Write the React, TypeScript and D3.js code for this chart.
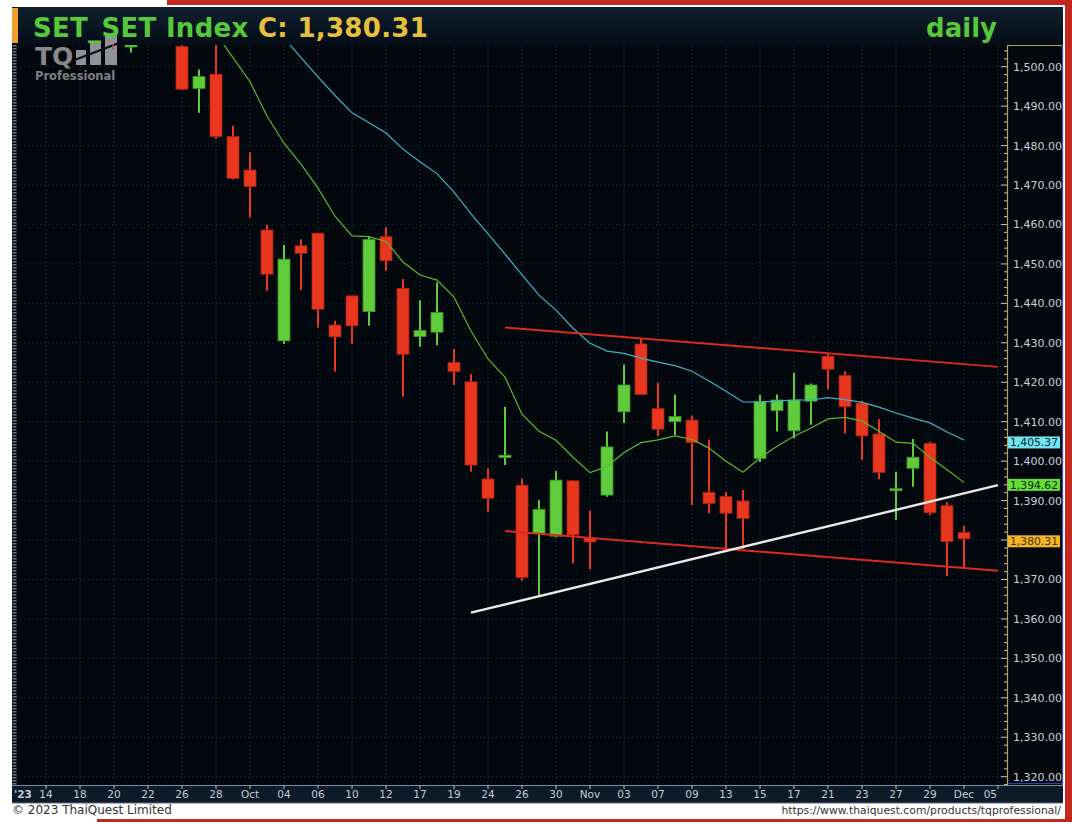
import React from 'react';
import * as d3 from 'd3';

// ---------- DATA ----------
const tradingDays = ['09-12','09-13','09-14','09-15','09-18','09-19','09-20','09-21','09-22','09-25','09-26','09-27','09-28','09-29','10-02','10-03','10-04','10-05','10-06','10-09','10-10','10-11','10-12','10-16','10-17','10-18','10-19','10-20','10-24','10-25','10-26','10-27','10-30','10-31','11-01','11-02','11-03','11-06','11-07','11-08','11-09','11-10','11-13','11-14','11-15','11-16','11-17','11-20','11-21','11-22','11-23','11-24','11-27','11-28','11-29','11-30','12-01','12-04','12-05'];

const tickLabels = ["'23","14","18","20","22","26","28","Oct","04","06","10","12","17","19","24","26","30","Nov","03","07","09","13","15","17","21","23","27","29","Dec","05"];

const candleDates = tradingDays.slice(7, 57); // 09-21 .. 12-01

const openV = [1505.0,1515.0,1512.0,1505.1,1494.5,1498.1,1482.3,1473.8,1458.6,1430.5,1454.6,1457.8,1434.5,1441.9,1437.9,1456.9,1443.8,1431.6,1432.7,1425.0,1420.1,1395.5,1400.9,1393.9,1381.7,1381.0,1395.0,1380.5,1391.4,1412.5,1429.7,1413.3,1410.0,1410.4,1392.1,1391.0,1389.9,1400.7,1412.8,1407.7,1415.2,1426.6,1421.7,1414.7,1406.9,1392.5,1398.2,1404.5,1388.7,1381.9];
const highV = [1518.0,1521.0,1514.0,1508.0,1499.3,1508.0,1485.0,1478.3,1459.9,1454.8,1456.2,1457.9,1435.6,1442.0,1456.9,1459.3,1446.2,1440.8,1445.3,1428.4,1422.1,1398.2,1413.8,1395.6,1390.1,1397.5,1395.1,1387.4,1407.5,1424.5,1431.1,1419.9,1416.9,1411.5,1405.5,1392.1,1392.7,1416.8,1416.9,1422.4,1419.7,1427.5,1422.8,1415.3,1410.6,1397.3,1405.6,1404.9,1389.6,1383.6];
const lowV = [1503.6,1509.0,1507.0,1494.0,1488.3,1481.7,1471.4,1461.8,1443.2,1429.7,1443.4,1433.9,1422.7,1429.7,1434.3,1448.3,1416.3,1429.0,1429.4,1419.3,1397.3,1387.2,1399.0,1369.7,1365.8,1380.7,1374.1,1372.6,1391.0,1409.7,1416.8,1406.4,1406.6,1388.9,1386.8,1377.5,1377.7,1399.8,1407.5,1405.8,1409.2,1418.2,1407.0,1400.3,1395.4,1385.1,1393.5,1386.3,1370.9,1372.7];
const closeV = [1514.0,1512.0,1508.0,1494.3,1497.5,1482.3,1471.7,1469.6,1447.4,1451.2,1452.7,1438.5,1431.5,1434.3,1456.2,1450.8,1427.1,1433.1,1437.7,1422.7,1399.0,1390.6,1401.5,1370.5,1387.8,1395.2,1381.3,1379.5,1403.6,1419.3,1416.9,1408.1,1411.3,1404.7,1389.3,1386.8,1385.5,1415.1,1415.5,1415.5,1419.3,1423.3,1413.8,1406.4,1397.1,1393.0,1401.0,1386.9,1379.6,1380.31];

const ma10Dates = tradingDays.slice(12, 57); // 09-28 .. 12-01
const ma10 = [1508.3,1502.3,1496.2,1487.5,1480.6,1475.3,1469.2,1462.1,1457.1,1456.9,1455.7,1450.5,1447.2,1445.9,1441.6,1433.0,1425.9,1421.3,1411.9,1407.6,1405.3,1401.0,1397.1,1398.6,1402.2,1404.7,1405.4,1406.4,1405.5,1403.3,1400.0,1397.2,1400.8,1403.8,1406.3,1408.4,1410.7,1411.1,1410.2,1407.6,1404.8,1404.5,1401.0,1397.8,1394.62];

const ma25Dates = tradingDays.slice(15, 57); // 10-03 .. 12-01
const ma25 = [1512.3,1507.3,1502.3,1497.4,1492.7,1488.3,1485.8,1483.2,1479.1,1475.9,1472.9,1468.2,1462.7,1457.6,1452.5,1447.2,1442.1,1438.3,1433.7,1429.9,1427.9,1427.3,1426.1,1425.1,1424.2,1422.8,1420.3,1417.7,1415.0,1415.0,1415.2,1415.5,1415.5,1416.1,1415.6,1414.9,1413.7,1412.2,1410.9,1409.7,1407.4,1405.37];

const upperChannel: [string, number][] = [['10-25', 1433.9], ['12-05', 1423.9]];
const lowerChannel: [string, number][] = [['10-25', 1382.3], ['12-05', 1372.2]];
const supportLine: [string, number][] = [['10-20', 1361.6], ['12-05', 1393.9]];

const yTicks = d3.range(1320, 1501, 10);

// ---------- LAYOUT ----------
const W = 1072, H = 822;
const PL = 12, PR = 1007, PT = 45, PB = 785;

const x = d3.scalePoint<string>().domain(tradingDays).range([12, 998]);
const y = d3.scaleLinear().domain([1320, 1500]).range([776.7, 66.7]);
const fmt = d3.format(',.2f');

const RED = '#e8361f', RED_D = '#a82214';
const GREEN = '#5fcd3b', GREEN_D = '#3c9226';

export default function App() {
  const lastClose = closeV[closeV.length - 1];
  const lastMa10 = ma10[ma10.length - 1];
  const lastMa25 = ma25[ma25.length - 1];
  const badgeVals = [lastMa25, lastMa10, lastClose];
  const line = d3.line<[string, number]>().x(d => x(d[0])!).y(d => y(d[1]));
  const ma10Path = line(ma10Dates.map((d, i) => [d, ma10[i]] as [string, number]))!;
  const ma25Path = line(ma25Dates.map((d, i) => [d, ma25[i]] as [string, number]))!;
  const tickDays = tradingDays.filter((_, i) => i % 2 === 0);
  const minorTicks = d3.range(1318, 1506, 2);
  const font = '"DejaVu Sans", Verdana, sans-serif';

  const badge = (v: number, fill: string, tc: string) => (
    <g key={fill}>
      <rect x={1008} y={y(v) - 3.5} width={52} height={12} fill={fill} />
      <text x={1034} y={y(v) + 6.3} fontSize={10.5} fill={tc} fontFamily={font} textAnchor="middle" textLength={48} lengthAdjust="spacingAndGlyphs">{fmt(v)}</text>
    </g>
  );

  return (
    <svg width={W} height={H} style={{ position: 'absolute', left: 0, top: 0, background: '#fff' }}>
      <defs>
        <linearGradient id="titleG" x1="0" y1="0" x2="0" y2="1">
          <stop offset="0" stopColor="#0f1f2f" />
          <stop offset="1" stopColor="#050c15" />
        </linearGradient>
        <clipPath id="plotClip">
          <rect x={PL} y={PT} width={PR - PL} height={PB - PT} />
        </clipPath>
      </defs>
      {/* frame */}
      <rect x={0} y={0} width={W} height={H} fill="#ffffff" />
      <rect x={167} y={0} width={W - 167} height={5} fill="#c3281e" />
      <rect x={1065} y={0} width={7} height={H} fill="#c3281e" />
      <rect x={97} y={819} width={W - 97} height={3} fill="#c3281e" />

      {/* panel */}
      <rect x={PL} y={7} width={1051} height={796} fill="#03080e" />
      <rect x={PL} y={7} width={1051} height={38} fill="url(#titleG)" />

      {/* grid */}
      <g clipPath="url(#plotClip)">
        {yTicks.map(t => (
          <line key={'h' + t} x1={PL} x2={PR} y1={y(t)} y2={y(t)} stroke="#1b2a3a" strokeWidth={1} strokeDasharray="1,3" />
        ))}
        {tickDays.map(d => (
          <line key={'v' + d} x1={x(d)} x2={x(d)} y1={PT} y2={PB} stroke="#122232" strokeWidth={1} strokeDasharray="2,2" />
        ))}
      </g>

      {/* left ruler strip */}
      <line x1={14.5} x2={14.5} y1={PT} y2={PB} stroke="#6f7a86" strokeWidth={4} strokeDasharray="1.5,1.5" />
      <rect x={12} y={8} width={6} height={35} fill="#f0a032" />

      {/* candles */}
      <g clipPath="url(#plotClip)">
        {candleDates.map((d, i) => {
          const up = closeV[i] >= openV[i];
          const c = up ? GREEN : RED;
          const cd = up ? GREEN_D : RED_D;
          const cx = x(d)!;
          const top = y(Math.max(openV[i], closeV[i]));
          const bot = y(Math.min(openV[i], closeV[i]));
          return (
            <g key={d}>
              <line x1={cx} x2={cx} y1={y(highV[i])} y2={y(lowV[i])} stroke={c} strokeWidth={2} />
              <rect x={cx - 6} y={top} width={12} height={Math.max(bot - top, 2)} fill={c} stroke={cd} strokeWidth={0.8} />
            </g>
          );
        })}
        <path d={ma25Path} fill="none" stroke="#3fb3c4" strokeWidth={1.2} />
        <path d={ma10Path} fill="none" stroke="#5cb82a" strokeWidth={1.2} />
        <path d={line(upperChannel)!} fill="none" stroke="#dc2a1e" strokeWidth={2} />
        <path d={line(lowerChannel)!} fill="none" stroke="#dc2a1e" strokeWidth={2} />
        <path d={line(supportLine)!} fill="none" stroke="#eaeaea" strokeWidth={2.4} />
      </g>

      {/* logo watermark */}
      <g opacity={0.8}>
        <text x={35} y={65} fontSize={25} fontWeight="bold" fill="#a9a9a9" fontFamily={font}>TQ</text>
        <rect x={76} y={50} width={10} height={15} fill="#b5b5b5" />
        <rect x={90} y={42} width={11} height={23} fill="#b5b5b5" />
        <rect x={105} y={34} width={12} height={31} fill="#b5b5b5" />
        <line x1={72} y1={61} x2={119} y2={43} stroke="#05101c" strokeWidth={2} />
        <line x1={113} y1={44} x2={113} y2={50} stroke="#e06070" strokeWidth={1.5} />
        <text x={35} y={80} fontSize={11.5} fontWeight="bold" fill="#9d9d9d" fontFamily={font}>Professional</text>
      </g>

      {/* title */}
      <text x={33} y={37} fontSize={26} fontWeight="bold" fontFamily={font} letterSpacing={0.3}>
        <tspan fill="#55c93a">SET_SET Index </tspan>
        <tspan fill="#e6c03c">C: {fmt(lastClose)}</tspan>
      </text>
      <text x={997} y={37} fontSize={26} fontWeight="bold" fill="#55c93a" fontFamily={font} textAnchor="end">daily</text>

      {/* y axis box */}
      {minorTicks.map(t => {
        const major = t % 10 === 0;
        const yy = y(t);
        if (yy < PT || yy > PB) return null;
        return <line key={'mt' + t} x1={major ? 1001 : 1004} x2={1007} y1={yy} y2={yy} stroke="#c9c9b8" strokeWidth={1} />;
      })}
      <line x1={1007.5} x2={1007.5} y1={PT} y2={PB} stroke="#b8a060" strokeWidth={1.2} />
      <line x1={1007} x2={1062} y1={PT + 0.5} y2={PT + 0.5} stroke="#b8a060" strokeWidth={1.2} />
      <line x1={1062.5} x2={1062.5} y1={PT} y2={PB} stroke="#3050d0" strokeWidth={1.2} />
      <line x1={1008} x2={1063} y1={PB - 1.5} y2={PB - 1.5} stroke="#2a44b0" strokeWidth={1} />
      {yTicks
        .filter(t => badgeVals.every(b => Math.abs(y(t) - (y(b) + 2.5)) > 9))
        .map(t => (
          <text key={'yl' + t} x={1013} y={y(t) + 4} fontSize={11} fill="#c8cfd6" fontFamily={font}>{fmt(t)}</text>
        ))}
      {badge(lastMa25, '#72e6f0', '#0a2a3a')}
      {badge(lastMa10, '#66dd36', '#0e2a0a')}
      {badge(lastClose, '#f2b52a', '#4a3208')}

      {/* x axis band */}
      <rect x={PL} y={786} width={1051} height={17} fill="#0c1a29" />
      <line x1={PL} x2={1063} y1={785.5} y2={785.5} stroke="#7d8a97" strokeWidth={1} />
      <line x1={PL} x2={1063} y1={803} y2={803} stroke="#5c6874" strokeWidth={1} />
      {tickDays.map((d, i) => {
        const xx = x(d)!;
        const first = i === 0;
        const last = i === tickDays.length - 1;
        return (
          <g key={'xt' + d}>
            {!first && <line x1={xx} x2={xx} y1={785} y2={789} stroke="#b7c0c8" strokeWidth={1} />}
            <text
              x={first ? 14 : last ? 997 : xx}
              y={798}
              fontSize={10.5}
              fontWeight={first ? 'bold' : 'normal'}
              fill="#c4ccd4"
              fontFamily={font}
              textAnchor={first ? 'start' : last ? 'end' : 'middle'}
            >
              {tickLabels[i]}
            </text>
          </g>
        );
      })}

      {/* footer */}
      <text x={12} y={814} fontSize={12} fill="#333" fontFamily={font}>© 2023 ThaiQuest Limited</text>
      <text x={1061} y={814} fontSize={10.8} fill="#333" fontFamily={font} textAnchor="end">https://www.thaiquest.com/products/tqprofessional/</text>
    </svg>
  );
}
